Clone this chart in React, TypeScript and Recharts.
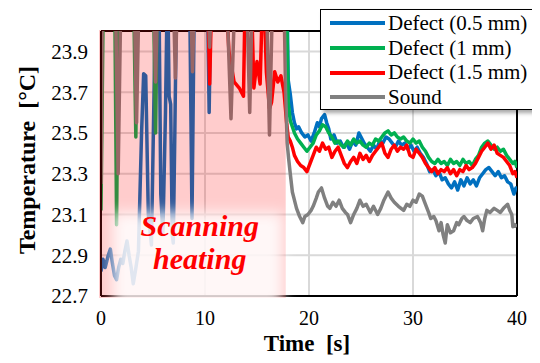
import { LineChart, Line, XAxis, YAxis, CartesianGrid, ReferenceArea, ReferenceLine, Legend, Label } from "recharts";

const SERIF = "'Liberation Serif', 'Times New Roman', Times, serif";

const xTicks = [0, 10, 20, 30, 40];
const yTicks = [22.7, 22.9, 23.1, 23.3, 23.5, 23.7, 23.9];

// [time s, temperature °C]; values above 24 are clipped by the axis
const blue: [number, number][] = [
  [0, 22.82], [0.2, 22.88], [0.4, 22.84], [0.7, 22.9], [0.9, 22.93], [1.1, 22.86], [1.3, 22.8], [1.5, 22.78],
  [1.7, 22.84], [1.9, 22.88], [2.1, 22.86], [2.3, 22.92], [2.5, 22.97], [2.7, 22.9], [2.9, 22.84], [3.1, 22.76],
  [3.3, 22.82], [3.6, 22.92], [3.9, 23.5], [4.1, 23.79], [4.3, 23.78], [4.55, 23.1], [4.85, 22.95], [5.3, 24.3],
  [5.55, 24.3], [5.75, 23.2], [5.95, 23.0], [6.2, 23.6], [6.4, 24.3], [6.55, 23.68], [6.7, 23.64], [6.85, 23.0],
  [6.95, 22.96], [7.1, 23.5], [7.3, 24.3], [8.5, 24.3], [8.75, 23.08], [9.0, 24.3], [10.2, 24.3], [10.4, 23.6],
  [10.6, 24.3], [17.85, 24.3], [18.0, 23.76], [18.2, 23.69], [18.4, 23.6], [18.6, 23.55], [18.8, 23.52], [19.0, 23.53],
  [19.3, 23.5], [19.6, 23.48], [19.9, 23.49], [20.2, 23.46], [20.5, 23.5], [20.8, 23.55], [21.0, 23.53], [21.2, 23.57],
  [21.5, 23.59], [21.7, 23.55], [21.9, 23.52], [22.1, 23.47], [22.4, 23.49], [22.7, 23.45], [23.0, 23.46], [23.3, 23.43],
  [23.6, 23.45], [23.9, 23.42], [24.2, 23.46], [24.5, 23.44], [24.8, 23.5], [25.0, 23.48], [25.3, 23.45], [25.6, 23.43],
  [25.9, 23.41], [26.2, 23.44], [26.5, 23.42], [26.8, 23.46], [27.1, 23.45], [27.4, 23.48], [27.7, 23.47], [28.0, 23.45],
  [28.3, 23.43], [28.6, 23.46], [28.9, 23.44], [29.2, 23.45], [29.5, 23.42], [29.8, 23.44], [30.1, 23.41], [30.4, 23.43],
  [30.7, 23.4], [31.0, 23.38], [31.3, 23.35], [31.6, 23.31], [31.9, 23.32], [32.2, 23.29], [32.5, 23.31], [32.8, 23.27],
  [33.1, 23.28], [33.4, 23.25], [33.7, 23.23], [34.0, 23.26], [34.3, 23.22], [34.6, 23.27], [34.9, 23.24], [35.2, 23.28],
  [35.5, 23.25], [35.8, 23.27], [36.1, 23.24], [36.4, 23.28], [36.7, 23.3], [37.0, 23.32], [37.3, 23.33], [37.6, 23.31],
  [37.9, 23.29], [38.2, 23.31], [38.5, 23.28], [38.8, 23.29], [39.1, 23.26], [39.4, 23.25], [39.7, 23.2], [39.9, 23.23],
  [40, 23.22],
];

const green: [number, number][] = [
  [0, 23.12], [0.25, 24.3], [1.3, 24.3], [1.5, 23.05], [1.7, 24.3], [3.1, 24.3], [3.35, 23.48], [3.55, 24.3],
  [5.0, 24.3], [5.25, 23.5], [5.45, 24.3], [15.9, 24.3], [16.0, 23.98], [16.1, 24.3], [17.8, 24.3], [18.0, 23.65],
  [18.2, 23.56], [18.4, 23.53], [18.6, 23.5], [18.9, 23.47], [19.2, 23.45], [19.5, 23.43], [19.8, 23.41], [20.1, 23.43],
  [20.4, 23.45], [20.7, 23.49], [21.0, 23.51], [21.3, 23.54], [21.6, 23.53], [21.9, 23.5], [22.2, 23.48], [22.5, 23.45],
  [22.8, 23.46], [23.1, 23.44], [23.4, 23.43], [23.7, 23.46], [24.0, 23.44], [24.3, 23.47], [24.6, 23.45], [24.9, 23.46],
  [25.2, 23.44], [25.5, 23.43], [25.8, 23.45], [26.1, 23.44], [26.4, 23.47], [26.7, 23.46], [27.0, 23.48], [27.3, 23.5],
  [27.6, 23.51], [27.9, 23.49], [28.2, 23.5], [28.5, 23.48], [28.8, 23.47], [29.1, 23.48], [29.4, 23.46], [29.7, 23.45],
  [30.0, 23.47], [30.3, 23.45], [30.6, 23.46], [30.9, 23.43], [31.2, 23.41], [31.5, 23.38], [31.8, 23.36], [32.1, 23.35],
  [32.4, 23.37], [32.7, 23.35], [33.0, 23.36], [33.3, 23.34], [33.6, 23.37], [33.9, 23.35], [34.2, 23.36], [34.5, 23.34],
  [34.8, 23.37], [35.1, 23.35], [35.4, 23.36], [35.7, 23.34], [36.0, 23.37], [36.3, 23.39], [36.6, 23.43], [36.9, 23.45],
  [37.2, 23.46], [37.5, 23.44], [37.8, 23.42], [38.1, 23.43], [38.4, 23.41], [38.7, 23.42], [39.0, 23.39], [39.3, 23.37],
  [39.6, 23.35], [39.8, 23.36], [40, 23.33],
];

const red: [number, number][] = [
  [0, 24.3], [10.2, 24.3], [10.45, 23.74], [10.7, 24.3], [11.9, 24.3], [12.3, 23.9], [12.8, 23.75], [13.3, 23.72],
  [13.7, 23.68], [13.9, 24.3], [14.4, 24.3], [14.7, 23.72], [15.0, 23.85], [15.3, 23.74], [15.6, 24.3], [15.9, 23.8],
  [16.2, 23.62], [16.4, 23.65], [16.7, 23.8], [17.0, 23.75], [17.3, 23.78], [17.6, 23.7], [17.85, 23.55], [18.0, 23.48],
  [18.2, 23.46], [18.4, 23.43], [18.6, 23.39], [18.9, 23.36], [19.2, 23.34], [19.5, 23.33], [19.8, 23.31], [20.1, 23.35],
  [20.4, 23.39], [20.7, 23.43], [21.0, 23.41], [21.3, 23.45], [21.6, 23.42], [21.9, 23.43], [22.2, 23.38], [22.5, 23.41],
  [22.8, 23.43], [23.1, 23.39], [23.4, 23.35], [23.7, 23.33], [24.0, 23.36], [24.3, 23.38], [24.6, 23.35], [24.9, 23.4],
  [25.2, 23.37], [25.5, 23.39], [25.8, 23.36], [26.1, 23.39], [26.4, 23.41], [26.7, 23.43], [27.0, 23.45], [27.3, 23.4],
  [27.6, 23.38], [27.9, 23.42], [28.2, 23.44], [28.5, 23.41], [28.8, 23.43], [29.1, 23.42], [29.4, 23.44], [29.7, 23.39],
  [30.0, 23.38], [30.3, 23.42], [30.6, 23.4], [30.9, 23.38], [31.2, 23.35], [31.5, 23.33], [31.8, 23.31], [32.1, 23.33],
  [32.4, 23.3], [32.7, 23.32], [33.0, 23.31], [33.3, 23.33], [33.6, 23.3], [33.9, 23.32], [34.2, 23.29], [34.5, 23.32],
  [34.8, 23.31], [35.1, 23.34], [35.4, 23.32], [35.7, 23.33], [36.0, 23.35], [36.3, 23.38], [36.6, 23.41], [36.9, 23.43],
  [37.2, 23.45], [37.5, 23.42], [37.8, 23.44], [38.1, 23.4], [38.4, 23.39], [38.7, 23.38], [39.0, 23.36], [39.3, 23.34],
  [39.6, 23.3], [39.8, 23.31], [40, 23.28],
];

const gray: [number, number][] = [
  [0, 23.25], [0.15, 24.3], [1.35, 24.3], [1.65, 23.3], [1.95, 24.3], [3.15, 24.3], [3.42, 23.55], [3.7, 24.3],
  [5.0, 24.3], [5.25, 23.75], [5.5, 24.3], [6.9, 24.3], [7.15, 23.77], [7.4, 24.3], [8.55, 24.3], [8.8, 23.8],
  [9.05, 24.3], [10.2, 24.3], [10.45, 23.92], [10.7, 24.3], [12.0, 24.3], [12.5, 23.57], [12.95, 24.3], [13.95, 24.3],
  [14.3, 23.6], [14.6, 24.3], [15.85, 24.3], [16.2, 23.49], [16.55, 24.3], [17.55, 24.3], [17.75, 23.7], [17.9, 23.45],
  [18.05, 23.37], [18.2, 23.3], [18.4, 23.21], [18.6, 23.17], [18.8, 23.13], [19.1, 23.09], [19.4, 23.06], [19.6, 23.09],
  [19.9, 23.1], [20.2, 23.12], [20.4, 23.14], [20.7, 23.18], [20.9, 23.21], [21.2, 23.23], [21.5, 23.18], [21.8, 23.14],
  [22.0, 23.13], [22.3, 23.16], [22.6, 23.14], [22.9, 23.17], [23.2, 23.13], [23.5, 23.11], [23.7, 23.1], [24.0, 23.06],
  [24.3, 23.1], [24.6, 23.13], [24.9, 23.17], [25.2, 23.14], [25.5, 23.15], [25.9, 23.11], [26.2, 23.14], [26.6, 23.1],
  [26.9, 23.13], [27.2, 23.17], [27.6, 23.21], [27.9, 23.18], [28.2, 23.16], [28.6, 23.14], [29.1, 23.12], [29.4, 23.15],
  [29.7, 23.14], [30.0, 23.17], [30.3, 23.16], [30.6, 23.2], [30.9, 23.19], [31.2, 23.15], [31.5, 23.11], [31.7, 23.08],
  [32.0, 23.09], [32.2, 23.07], [32.5, 23.02], [32.7, 23.06], [32.9, 23.0], [33.1, 22.96], [33.3, 23.05], [33.6, 23.01],
  [33.9, 23.02], [34.2, 23.06], [34.4, 23.05], [34.7, 23.08], [34.9, 23.09], [35.2, 23.07], [35.5, 23.06], [35.8, 23.08],
  [36.2, 23.09], [36.5, 23.06], [36.7, 23.02], [36.9, 23.08], [37.1, 23.12], [37.4, 23.11], [37.8, 23.13], [38.1, 23.12],
  [38.4, 23.11], [38.7, 23.13], [39.1, 23.15], [39.3, 23.12], [39.5, 23.1], [39.6, 23.04], [39.8, 23.05], [40, 23.04],
];

const series = [
  { name: "Defect (0.5 mm)", color: "#0070c0", points: blue },
  { name: "Defect (1 mm)", color: "#00b050", points: green },
  { name: "Defect (1.5 mm)", color: "#ff0000", points: red },
  { name: "Sound", color: "#808080", points: gray },
];

const scanEnd = 17.76;

const toRows = (pts: [number, number][]) => pts.map(([t, v]) => ({ t, v }));

function LegendBox() {
  return (
    <div
      style={{
        width: 217,
        height: 101,
        boxSizing: "border-box",
        border: "1.5px solid #000",
        background: "#fff",
        boxShadow: "3px 3px 4px rgba(0,0,0,0.35)",
        padding: "1px 0 0 9px",
        fontFamily: SERIF,
        fontSize: 21,
        lineHeight: "24.7px",
        color: "#000",
      }}
    >
      {series.map((s) => (
        <div key={s.name} style={{ display: "flex", alignItems: "center", whiteSpace: "nowrap" }}>
          <span style={{ display: "inline-block", width: 55, height: 4, background: s.color, marginRight: 3 }} />
          {s.name}
        </div>
      ))}
    </div>
  );
}

function GlowShape(p: any) {
  const cx = p.x + p.width / 2 + 2;
  return (
    <g>
      <defs>
        <filter id="glowBlur" x="-30%" y="-40%" width="160%" height="180%">
          <feGaussianBlur stdDeviation="7" />
        </filter>
      </defs>
      <rect x={p.x} y={p.y} width={p.width} height={p.height + 10} fill="#fff" fillOpacity={0.85} filter="url(#glowBlur)" />
      <text x={cx} y={p.y + 24} textAnchor="middle" fill="#ff0000" fontFamily={SERIF} fontSize={30} fontWeight="bold" fontStyle="italic">
        Scanning
      </text>
      <text x={cx} y={p.y + 57} textAnchor="middle" fill="#ff0000" fontFamily={SERIF} fontSize={30} fontWeight="bold" fontStyle="italic">
        heating
      </text>
    </g>
  );
}

function PinkShape(p: any) {
  return <rect x={p.x - 2} y={p.y - 1} width={p.width + 2} height={p.height + 3} fill="#ff0000" fillOpacity={0.2} />;
}

export default function App() {
  return (
    <LineChart width={532} height={355} margin={{ top: 23, right: 23, bottom: 0, left: 0 }} style={{ fontFamily: SERIF }}>
      <CartesianGrid stroke="#d9d9d9" strokeWidth={2} />
      <XAxis
        dataKey="t"
        type="number"
        domain={[0, 40]}
        ticks={xTicks}
        allowDataOverflow
        height={67}
        tickSize={0}
        tickMargin={15}
        tickLine={false}
        axisLine={{ stroke: "#000", strokeWidth: 2 }}
        tick={{ fill: "#000", fontSize: 20, fontFamily: SERIF }}
      >
        <Label
          content={() => (
            <text x={299} y={343} textAnchor="middle" fontFamily={SERIF} fontSize={23} fontWeight="bold" style={{ whiteSpace: "pre" }}>
              {"Time  [s]"}
            </text>
          )}
        />
      </XAxis>
      <YAxis
        type="number"
        domain={[22.7, 24]}
        ticks={yTicks}
        allowDataOverflow
        width={93}
        tickSize={0}
        tickMargin={13}
        tickLine={false}
        axisLine={{ stroke: "#000", strokeWidth: 2 }}
        tick={{ fill: "#000", fontSize: 21, fontFamily: SERIF }}
      >
        <Label
          content={() => (
            <text
              x={0}
              y={0}
              transform="translate(27,152) rotate(-90)"
              textAnchor="middle"
              fontFamily={SERIF}
              fontSize={24}
              fontWeight="bold"
              style={{ whiteSpace: "pre" }}
            >
              {"Temperature  [°C]"}
            </text>
          )}
        />
      </YAxis>
      <ReferenceLine y={24} stroke="#000" strokeWidth={2} />
      <ReferenceLine x={40} stroke="#000" strokeWidth={2} />
      {series.map((s) => (
        <Line
          key={s.name}
          data={toRows(s.points)}
          dataKey="v"
          name={s.name}
          type="linear"
          stroke={s.color}
          strokeWidth={3.5}
          strokeLinejoin="round"
          dot={false}
          activeDot={false}
          isAnimationActive={false}
        />
      ))}
      <ReferenceArea x1={0} x2={scanEnd} y1={22.7} y2={24} shape={PinkShape} ifOverflow="visible" zIndex={600} />
      <ReferenceArea x1={1.1} x2={17.5} y1={22.7} y2={23.11} shape={GlowShape} ifOverflow="visible" zIndex={610} />
      <Legend
        layout="vertical"
        align="center"
        verticalAlign="middle"
        wrapperStyle={{ left: 312, top: 1, width: 217 }}
        content={() => <LegendBox />}
      />
    </LineChart>
  );
}
